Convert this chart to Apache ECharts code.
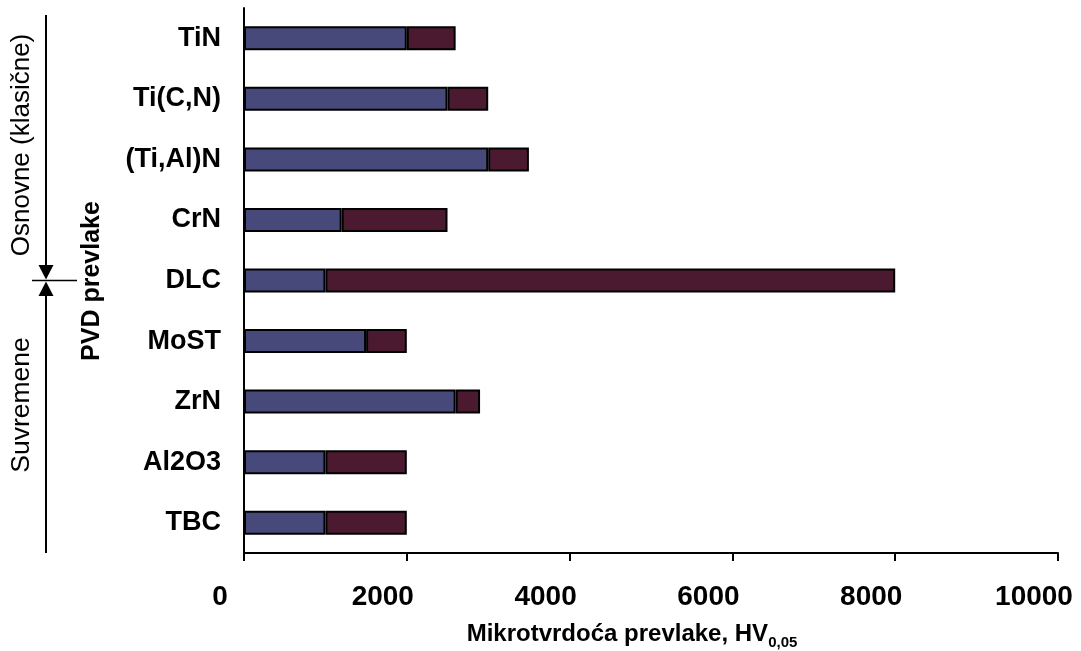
<!DOCTYPE html>
<html>
<head>
<meta charset="utf-8">
<script src="https://cdn.jsdelivr.net/npm/echarts@6/dist/echarts.min.js"></script>
<style>
html,body{margin:0;padding:0;background:#fff;}
#chart{width:1081px;height:651px;}
</style>
</head>
<body>
<div id="chart"></div>
<script>
var categories = ['TiN', 'Ti(C,N)', '(Ti,Al)N', 'CrN', 'DLC', 'MoST', 'ZrN', 'Al2O3', 'TBC'];
var baseValues = [2000, 2500, 3000, 1200, 1000, 1500, 2600, 1000, 1000];
var extraValues = [600, 500, 500, 1300, 7000, 500, 300, 1000, 1000];
var xTicks = { min: 0, max: 10000, interval: 2000 };
var xTitleMain = 'Mikrotvrdoća prevlake, HV';
var xTitleSub = '0,05';
var groupTop = 'Osnovne (klasične)';
var groupBottom = 'Suvremene';
var yTitle = 'PVD prevlake';

var FONT = '"Liberation Sans", Arial, sans-serif';
var chart = echarts.init(document.getElementById('chart'), null, { renderer: 'canvas' });

var option = {
  animation: false,
  backgroundColor: '#ffffff',
  grid: { left: 244, right: 23, top: 8, bottom: 98, containLabel: false, outerBoundsMode: 'none' },
  xAxis: {
    type: 'value',
    min: xTicks.min, max: xTicks.max, interval: xTicks.interval,
    splitLine: { show: false },
    axisLine: { show: true, lineStyle: { color: '#000', width: 2 } },
    axisTick: { show: true, length: 8, inside: false, lineStyle: { color: '#000', width: 2 } },
    axisLabel: {
      margin: 30, color: '#000', fontFamily: FONT, fontWeight: 'bold', fontSize: 28,
      padding: [0, 48, 0, 0],
      formatter: function (v) { return String(v); }
    },
    name: '{a|' + xTitleMain + '}{s|' + xTitleSub + '}',
    nameLocation: 'middle',
    nameGap: 65,
    nameTextStyle: {
      padding: [0, 38, 0, 0],
      rich: {
        a: { fontFamily: FONT, fontWeight: 'bold', fontSize: 24, color: '#000', lineHeight: 28, verticalAlign: 'bottom' },
        s: { fontFamily: FONT, fontWeight: 'bold', fontSize: 15, color: '#000', lineHeight: 28, verticalAlign: 'bottom', padding: [0, 0, -4, 0] }
      }
    }
  },
  yAxis: {
    type: 'category',
    data: categories,
    inverse: true,
    axisLine: { show: true, lineStyle: { color: '#000', width: 2 } },
    axisTick: { show: false },
    axisLabel: { margin: 23, color: '#000', fontFamily: FONT, fontWeight: 'bold', fontSize: 27 },
    splitLine: { show: false }
  },
  series: [
    {
      type: 'bar', stack: 'total', data: baseValues, barWidth: 24,
      itemStyle: { color: '#47497A', borderColor: '#000', borderWidth: 2 }
    },
    {
      type: 'bar', stack: 'total', data: extraValues, barWidth: 24,
      itemStyle: { color: '#4B1A31', borderColor: '#000', borderWidth: 2 }
    }
  ],
  graphic: [
    { type: 'line', shape: { x1: 46, y1: 15, x2: 46, y2: 272 }, style: { stroke: '#000', lineWidth: 2 } },
    { type: 'line', shape: { x1: 46, y1: 289, x2: 46, y2: 553 }, style: { stroke: '#000', lineWidth: 2 } },
    { type: 'line', shape: { x1: 32, y1: 280.5, x2: 77, y2: 280.5 }, style: { stroke: '#000', lineWidth: 1.5 } },
    { type: 'polygon', shape: { points: [[38.5, 265], [53.5, 265], [46, 279.5]] }, style: { fill: '#000' } },
    { type: 'polygon', shape: { points: [[38.5, 296], [53.5, 296], [46, 281.5]] }, style: { fill: '#000' } },
    { type: 'text', x: 22, y: 145, rotation: Math.PI / 2,
      style: { text: groupTop, font: '26px ' + FONT, fill: '#000', align: 'center', verticalAlign: 'middle' } },
    { type: 'text', x: 22, y: 405, rotation: Math.PI / 2,
      style: { text: groupBottom, font: '26.5px ' + FONT, fill: '#000', align: 'center', verticalAlign: 'middle' } },
    { type: 'text', x: 92, y: 281, rotation: Math.PI / 2,
      style: { text: yTitle, font: 'bold 25px ' + FONT, fill: '#000', align: 'center', verticalAlign: 'middle' } }
  ]
};
chart.setOption(option);
</script>
</body>
</html>
